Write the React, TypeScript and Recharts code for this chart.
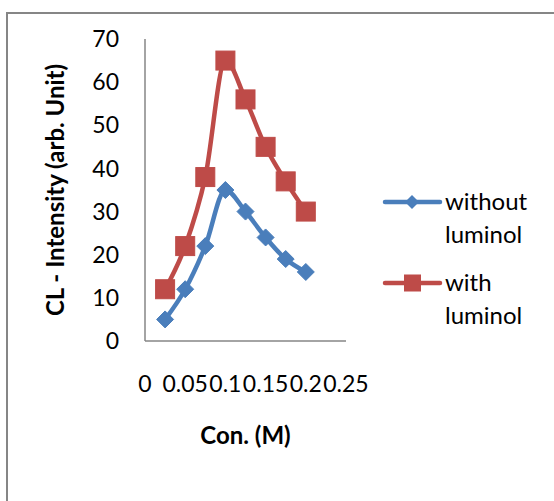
import React from "react";
import { LineChart, Line, XAxis, YAxis, Legend, Label } from "recharts";

// concentration (M)
const conc = [0.025, 0.05, 0.075, 0.1, 0.125, 0.15, 0.175, 0.2];
const withoutLuminol = [5, 12, 22, 35, 30, 24, 19, 16];
const withLuminol = [12, 22, 38, 65, 56, 45, 37, 30];
const xTicks = [0, 0.05, 0.1, 0.15, 0.2, 0.25];
const yTicks = [0, 10, 20, 30, 40, 50, 60, 70];

const BLUE = "#4A7EBB";
const RED = "#BE4B48";
const AXIS = "#868686";
const FONT = "Lato, 'Liberation Sans', sans-serif";

const data = conc.map((c, i) => ({
  conc: c,
  without: withoutLuminol[i],
  with: withLuminol[i]
}));

// eslint-disable-next-line @typescript-eslint/no-explicit-any
const Diamond = (props: any) => {
  const { cx, cy } = props;
  if (cx == null || cy == null) return null;
  const r = 8.5;
  return (
    <polygon
      points={`${cx},${cy - r} ${cx + r},${cy} ${cx},${cy + r} ${cx - r},${cy}`}
      fill={BLUE}
      stroke={BLUE}
      strokeWidth={1}
    />
  );
};

// eslint-disable-next-line @typescript-eslint/no-explicit-any
const Square = (props: any) => {
  const { cx, cy } = props;
  if (cx == null || cy == null) return null;
  const s = 9.5;
  return <rect x={cx - s} y={cy - s} width={s * 2} height={s * 2} fill={RED} stroke={RED} strokeWidth={1} />;
};

const legendItems = [
  { color: BLUE, shape: "diamond", lines: ["without", "luminol"] },
  { color: RED, shape: "square", lines: ["with", "luminol"] }
];

const LegendBox = () => (
  <svg width={174} height={160} style={{ display: "block" }}>
    {legendItems.map((item, i) => {
      const y = 22 + i * 81;
      return (
        <g key={i}>
          <line x1={5} x2={60} y1={y} y2={y} stroke={item.color} strokeWidth={4.5} strokeLinecap="round" />
          {item.shape === "diamond" ? (
            <polygon points={`32,${y - 7} 39,${y} 32,${y + 7} 25,${y}`} fill={item.color} />
          ) : (
            <rect x={24} y={y - 8.5} width={17} height={17} fill={item.color} />
          )}
          {item.lines.map((t, j) => (
            <text key={j} x={65} y={y + 8 + j * 33} fontFamily={FONT} fontSize={24} fill="#000">
              {t}
            </text>
          ))}
        </g>
      );
    })}
  </svg>
);

export default function App() {
  return (
    <div style={{ position: "fixed", left: 0, top: 0, width: 554, height: 501, overflow: "hidden", background: "#fff" }}>
      <div
        style={{
          position: "absolute",
          left: 6,
          top: 12,
          width: 600,
          height: 600,
          borderLeft: `2px solid ${AXIS}`,
          borderTop: `2px solid ${AXIS}`
        }}
      />
      <div style={{ position: "absolute", left: 0, top: 0 }}>
        <LineChart width={554} height={501} data={data} margin={{ top: 39, right: 208, bottom: 100, left: 85 }}>
          <XAxis
            dataKey="conc"
            type="number"
            domain={[0, 0.25]}
            ticks={xTicks}
            interval={0}
            height={60}
            tickLine={false}
            tickSize={0}
            tickMargin={35}
            axisLine={{ stroke: AXIS, strokeWidth: 1.5 }}
            tick={{ fill: "#000", fontSize: 23, fontFamily: FONT }}
          >
            <Label
              value="Con. (M)"
              position="bottom"
              offset={26}
              style={{ fill: "#000", fontSize: 24, fontWeight: 700, fontFamily: FONT }}
            />
          </XAxis>
          <YAxis
            type="number"
            domain={[0, 70]}
            ticks={yTicks}
            interval={0}
            width={60}
            tickLine={false}
            tickSize={0}
            tickMargin={26}
            axisLine={{ stroke: AXIS, strokeWidth: 1.5 }}
            tick={{ fill: "#000", fontSize: 23, fontFamily: FONT }}
          >
            <Label
              value="CL - Intensity (arb. Unit)"
              angle={-90}
              position="insideLeft"
              offset={-30}
              style={{ textAnchor: "middle", fill: "#000", fontSize: 24, fontWeight: 700, fontFamily: FONT }}
            />
          </YAxis>
          <Legend
            layout="vertical"
            align="center"
            verticalAlign="middle"
            width={174}
            height={160}
            wrapperStyle={{ left: 380, top: 180 }}
            content={() => <LegendBox />}
          />
          <Line
            type="monotone"
            dataKey="without"
            name="without luminol"
            stroke={BLUE}
            strokeWidth={4.5}
            dot={<Diamond />}
            activeDot={false}
            isAnimationActive={false}
          />
          <Line
            type="monotone"
            dataKey="with"
            name="with luminol"
            stroke={RED}
            strokeWidth={4.5}
            dot={<Square />}
            activeDot={false}
            isAnimationActive={false}
          />
        </LineChart>
      </div>
    </div>
  );
}
